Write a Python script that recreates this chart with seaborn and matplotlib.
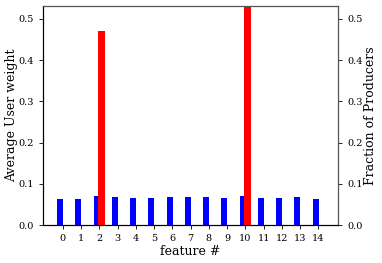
import matplotlib
matplotlib.use("Agg")
import matplotlib.pyplot as plt
import seaborn as sns
import pandas as pd
import numpy as np

# data
features = list(range(15))
user_weight = [0.064, 0.064, 0.070, 0.069, 0.067, 0.067, 0.068, 0.068,
               0.069, 0.066, 0.070, 0.067, 0.067, 0.068, 0.064]
producer_frac = [0, 0, 0.47, 0, 0, 0, 0, 0, 0, 0, 0.53, 0, 0, 0, 0]

plt.rcParams['font.family'] = ['DejaVu Serif']
plt.rcParams['axes.linewidth'] = 0.8

fig = plt.figure(figsize=(3.82, 2.63), dpi=100)
ax = fig.add_axes([0.1126, 0.1433, 0.7724, 0.835])
ax2 = ax.twinx()

df = pd.DataFrame({'feature': features, 'user': user_weight, 'prod': producer_frac})
df['xu'] = df['feature'] - 0.145  # blue sits left of the tick
df['xp'] = df['feature'] + 0.12   # red sits right of the tick

sns.barplot(data=df, x='xu', y='user', ax=ax, native_scale=True, width=0.33,
            color='blue', saturation=1, linewidth=0)
sns.barplot(data=df, x='xp', y='prod', ax=ax2, native_scale=True, width=0.34,
            color='red', saturation=1, linewidth=0)

top = 0.5315
for a in (ax, ax2):
    a.set_ylim(0, top)
    a.set_yticks([0, 0.1, 0.2, 0.3, 0.4, 0.5])
    a.tick_params(labelsize=7, length=3, width=0.6)
ax.set_xlim(-1.08, 15.08)
ax.set_xticks(features)
ax.set_xticklabels([str(f) for f in features])

# top/right frame looks a bit lighter in the reference
ax2.spines['top'].set_color('#555555')
ax2.spines['right'].set_color('#555555')

ax.set_xlabel('feature #', fontsize=9, labelpad=1)
ax.set_ylabel('Average User weight', fontsize=9, labelpad=0)
ax2.set_ylabel('Fraction of Producers', fontsize=9, labelpad=1)

fig.savefig('out.png', dpi=100)
